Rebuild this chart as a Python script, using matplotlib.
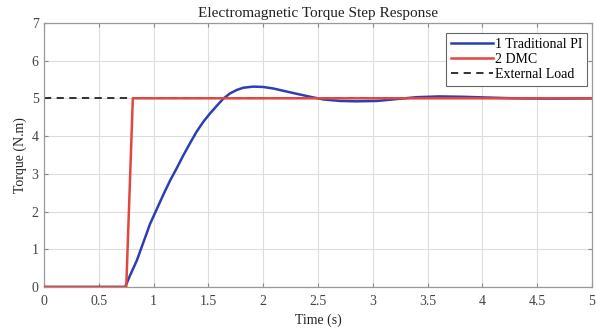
import matplotlib
matplotlib.use("Agg")
import matplotlib.pyplot as plt

# Data
t_pi = [0.0, 0.74, 0.785, 0.846, 0.906, 0.967, 1.028, 1.089, 1.150, 1.211, 1.271,
        1.332, 1.393, 1.454, 1.515, 1.576, 1.636, 1.697, 1.758, 1.818, 1.910, 2.001,
        2.092, 2.183, 2.305, 2.43, 2.55, 2.70, 2.85, 3.04, 3.22, 3.40, 3.61, 3.83,
        4.05, 4.30, 4.60, 5.0]
v_pi = [0.0, 0.0, 0.31, 0.70, 1.18, 1.67, 2.06, 2.45, 2.82, 3.15, 3.49,
        3.81, 4.12, 4.38, 4.60, 4.80, 4.99, 5.13, 5.22, 5.28, 5.31, 5.30,
        5.26, 5.20, 5.12, 5.04, 4.97, 4.93, 4.92, 4.93, 4.98, 5.03, 5.05, 5.04,
        5.02, 5.0, 4.99, 5.0]
t_dmc = [0.0, 0.75, 0.81, 5.0]
v_dmc = [0.0, 0.0, 5.0, 5.0]
t_load = [0.0, 5.0]
v_load = [5.0, 5.0]

labels = ["1 Traditional PI", "2 DMC", "External Load"]
xticks = [0, 0.5, 1, 1.5, 2, 2.5, 3, 3.5, 4, 4.5, 5]
xticklabels = ["0", "0.5", "1", "1.5", "2", "2.5", "3", "3.5", "4", "4.5", "5"]
yticks = [0, 1, 2, 3, 4, 5, 6, 7]

plt.rcParams['font.family'] = ['Liberation Serif', 'DejaVu Serif']

fig = plt.figure(figsize=(5.96, 3.31), dpi=100)
ax = fig.add_axes([0.074, 0.133, 0.919, 0.798])

ax.plot(t_load, v_load, color='#222222', linestyle=(0, (4, 3)), linewidth=1.3,
        label=labels[2], zorder=2)
ax.plot(t_pi, v_pi, color='#2b3fb5', linewidth=1.8, label=labels[0], zorder=3)
ax.plot(t_dmc, v_dmc, color='#e2473f', linewidth=1.8, label=labels[1], zorder=4)

ax.set_xlim(0, 5)
ax.set_ylim(0, 7)
ax.set_xticks(xticks)
ax.set_xticklabels(xticklabels)
ax.set_yticks(yticks)
ax.grid(True, color='#dddddd', linewidth=0.8)
ax.tick_params(direction='in', top=True, right=True, labelsize=10,
               color='#888888', length=3, labelcolor='#444444')
ax.tick_params(axis='x', pad=6)
ax.tick_params(axis='y', pad=4)
for s in ax.spines.values():
    s.set_color('#999999')
    s.set_linewidth(0.9)

ax.set_title("Electromagnetic Torque Step Response", fontsize=11, pad=4, color='#222222')
ax.set_xlabel("Time (s)", fontsize=10, labelpad=4, color='#222222')
ax.set_ylabel("Torque (N.m)", fontsize=10, labelpad=3, color='#222222')

h, l = ax.get_legend_handles_labels()
order = [1, 2, 0]
leg = ax.legend([h[i] for i in order], [l[i] for i in order], loc='upper right',
                fontsize=10, handlelength=3.0, handletextpad=0.15, borderpad=0.35,
                labelspacing=0.15, fancybox=False, framealpha=1, borderaxespad=0,
                bbox_to_anchor=(0.991, 0.962))
leg.get_frame().set_edgecolor('#666666')
leg.get_frame().set_linewidth(0.8)

fig.savefig("out.png", dpi=100)
